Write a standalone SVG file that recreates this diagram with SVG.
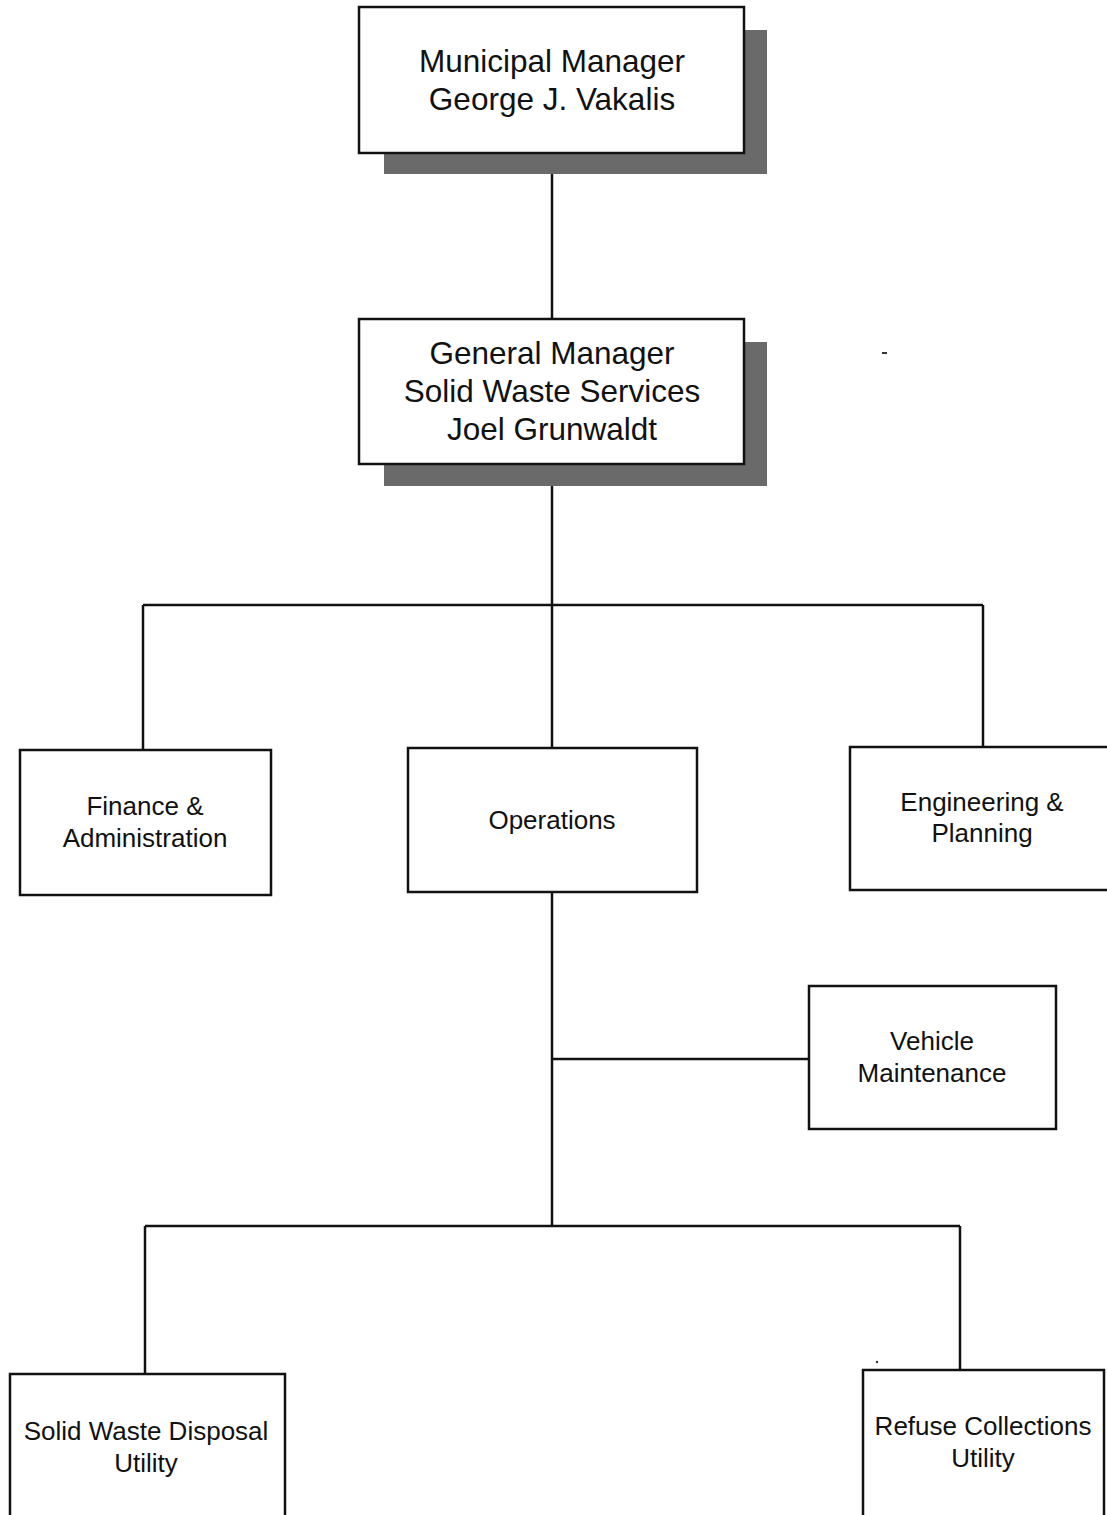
<svg xmlns="http://www.w3.org/2000/svg" width="1107" height="1515" viewBox="0 0 1107 1515">
<style>
.box{fill:#fff;stroke:#111;stroke-width:2.5}
.sh{fill:#6a6a6a}
.ln{stroke:#111;stroke-width:2.5;fill:none}
.big{font-family:"Liberation Sans",Arial,sans-serif;font-size:31.5px;fill:#111;text-anchor:middle}
.sm{font-family:"Liberation Sans",Arial,sans-serif;font-size:26px;fill:#111;text-anchor:middle}
</style>
<rect width="1107" height="1515" fill="#fff"/>
<g id="connectors">
<line class="ln" x1="552" y1="153" x2="552" y2="319"/>
<line class="ln" x1="552" y1="464" x2="552" y2="748"/>
<line class="ln" x1="143" y1="605" x2="983" y2="605"/>
<line class="ln" x1="143" y1="605" x2="143" y2="750"/>
<line class="ln" x1="983" y1="605" x2="983" y2="747"/>
<line class="ln" x1="552" y1="892" x2="552" y2="1226"/>
<line class="ln" x1="552" y1="1059" x2="809" y2="1059"/>
<line class="ln" x1="145" y1="1226" x2="960" y2="1226"/>
<line class="ln" x1="145" y1="1226" x2="145" y2="1374"/>
<line class="ln" x1="960" y1="1226" x2="960" y2="1370"/>
</g>
<g id="municipal-manager">
<rect class="sh" x="384" y="30" width="383" height="144"/>
<rect class="box" x="359" y="7" width="385" height="146"/>
<text class="big" x="552" y="72">Municipal Manager</text>
<text class="big" x="552" y="110">George J. Vakalis</text>
</g>
<g id="general-manager">
<rect class="sh" x="384" y="342" width="383" height="144"/>
<rect class="box" x="359" y="319" width="385" height="145"/>
<text class="big" x="552" y="364">General Manager</text>
<text class="big" x="552" y="402">Solid Waste Services</text>
<text class="big" x="552" y="440">Joel Grunwaldt</text>
</g>
<rect x="882" y="352" width="5" height="2" fill="#333"/>
<g id="finance">
<rect class="box" x="20" y="750" width="251" height="145"/>
<text class="sm" x="145" y="815">Finance &amp;</text>
<text class="sm" x="145" y="847">Administration</text>
</g>
<g id="operations">
<rect class="box" x="408" y="748" width="289" height="144"/>
<text class="sm" x="552" y="829">Operations</text>
</g>
<g id="engineering">
<rect class="box" x="850" y="747" width="270" height="143"/>
<text class="sm" x="982" y="811">Engineering &amp;</text>
<text class="sm" x="982" y="842">Planning</text>
</g>
<g id="vehicle-maintenance">
<rect class="box" x="809" y="986" width="247" height="143"/>
<text class="sm" x="932" y="1050">Vehicle</text>
<text class="sm" x="932" y="1082">Maintenance</text>
</g>
<g id="solid-waste-disposal">
<rect class="box" x="10" y="1374" width="275" height="160"/>
<text class="sm" x="146" y="1440">Solid Waste Disposal</text>
<text class="sm" x="146" y="1472">Utility</text>
</g>
<g id="refuse-collections">
<rect class="box" x="863" y="1370" width="241" height="160"/>
<text class="sm" x="983" y="1435">Refuse Collections</text>
<text class="sm" x="983" y="1467">Utility</text>
</g>
<circle cx="877" cy="1362" r="1.2" fill="#333"/>
</svg>
